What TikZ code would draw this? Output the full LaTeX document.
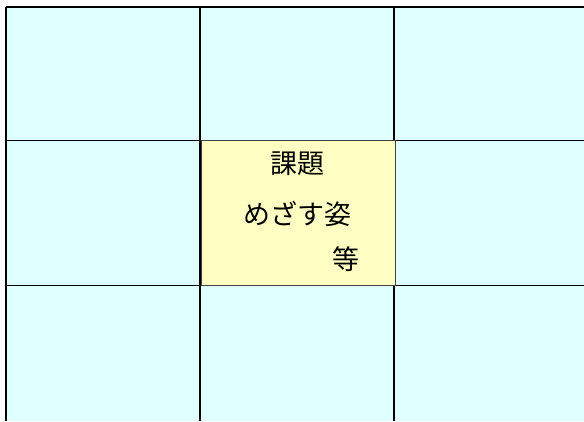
\documentclass[tikz,border=0pt]{standalone}
\usepackage{fontspec}
\newfontfamily\jp{Noto Sans CJK JP}
\definecolor{cellcyan}{HTML}{E0FFFF}
\definecolor{boxyellow}{HTML}{FFFFC4}
\definecolor{boxborder}{HTML}{404040}
\begin{document}
\begin{tikzpicture}[x=1pt,y=-1pt,
  gridline/.style={draw=black,line width=1.7pt},
  centerbox/.style={draw=boxborder,line width=1.2pt,fill=boxyellow,inner sep=0pt,anchor=north west,minimum width=194pt,minimum height=145pt},
  label/.style={font=\jp\fontsize{27}{30}\selectfont,inner sep=0pt}]
\useasboundingbox (0,0) rectangle (584,421);
\fill[cellcyan] (6,7) rectangle (584,421);
% grid
\draw[gridline] (6,7) -- (584,7);
\draw[gridline] (6,140.5) -- (584,140.5);
\draw[gridline] (6,285.5) -- (584,285.5);
\draw[gridline] (6,7) -- (6,421);
\draw[gridline] (200,7) -- (200,421);
\draw[gridline] (394,7) -- (394,421);
% center box
\node[centerbox] (box) at (200.5,139.5) {};
\node[label] (t1) at (297.5,164) {課題};
\node[label] (t2) at (297,214) {めざす姿};
\node[label] (t3) at (346,259) {等};
\end{tikzpicture}
\end{document}
